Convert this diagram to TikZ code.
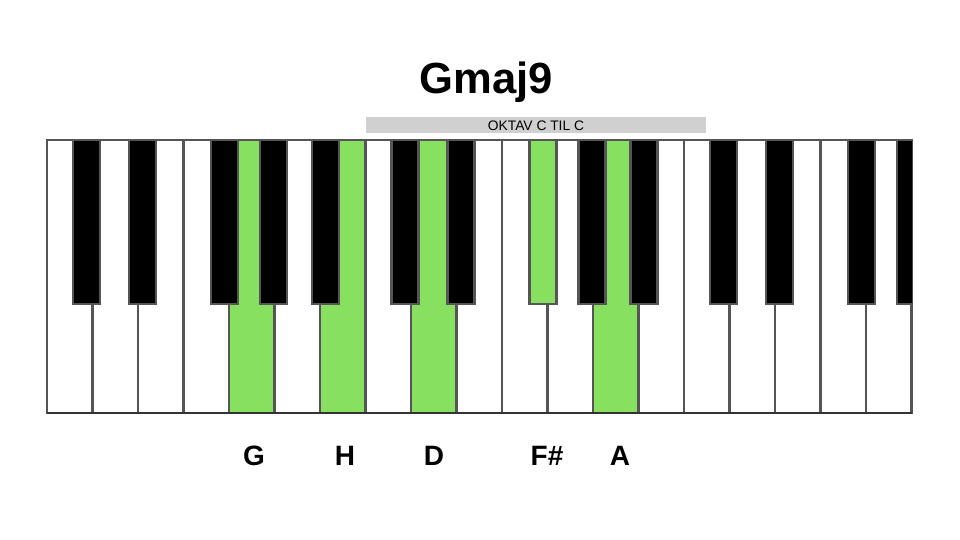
\documentclass[tikz,border=0pt]{standalone}
\usepackage{fontspec}
\setmainfont{Liberation Sans}
\usetikzlibrary{positioning}
\definecolor{keygreen}{HTML}{88E060}
\definecolor{keyline}{HTML}{555555}
\definecolor{bargray}{HTML}{D0D0D0}
\tikzset{
  whitekey/.style={draw=keyline,line width=1.3pt,fill=white},
  blackkey/.style={draw=keyline,line width=1.3pt,fill=black},
  notelabel/.style={anchor=base,font=\bfseries\fontsize{14}{16}\selectfont}
}

\begin{document}
\begin{tikzpicture}[x=0.5pt,y=-0.5pt]
\useasboundingbox (0,0) rectangle (960,540);
\fill[white] (0,0) rectangle (960,540);
% title and octave bar
\node[anchor=base] (title) at (486,94) {\bfseries\fontsize{21.8}{26}\selectfont Gmaj9};
\fill[bargray] (366,117) rectangle (706,133);
\node[anchor=base] (octlabel) at (536,131) {\fontsize{6.9}{8}\selectfont OKTAV C TIL C};
% white keys
\foreach \i in {0,...,18}
  \draw[whitekey] ({47+45.5*\i},140) rectangle ({47+45.5*(\i+1)},413);
\foreach \i in {4,6,8,12}
  \draw[whitekey,fill=keygreen] ({47+45.5*\i},140) rectangle ({47+45.5*(\i+1)},413);
% black keys
\begin{scope}
\clip (47,130) rectangle (912,420);
\foreach \o in {0,1,2}
  \foreach \d in {26,82,164,213,265}
    \draw[blackkey] ({47+318.5*\o+\d},140) rectangle ({47+318.5*\o+\d+27},304);
\draw[blackkey,fill=keygreen] (529.5,140) rectangle (556.5,304);
\end{scope}
\draw[keyline,line width=1.3pt] (47,140) -- (912,140);
\draw[black!80,line width=1.3pt] (47,413) -- (912,413);
% chord notes
\node[notelabel] (noteG) at (254,465) {G};
\node[notelabel] (noteH) at (345,465) {H};
\node[notelabel] (noteD) at (434,465) {D};
\node[notelabel] (noteFis) at (547,465) {F\#};
\node[notelabel] (noteA) at (620,465) {A};
\end{tikzpicture}
\end{document}
